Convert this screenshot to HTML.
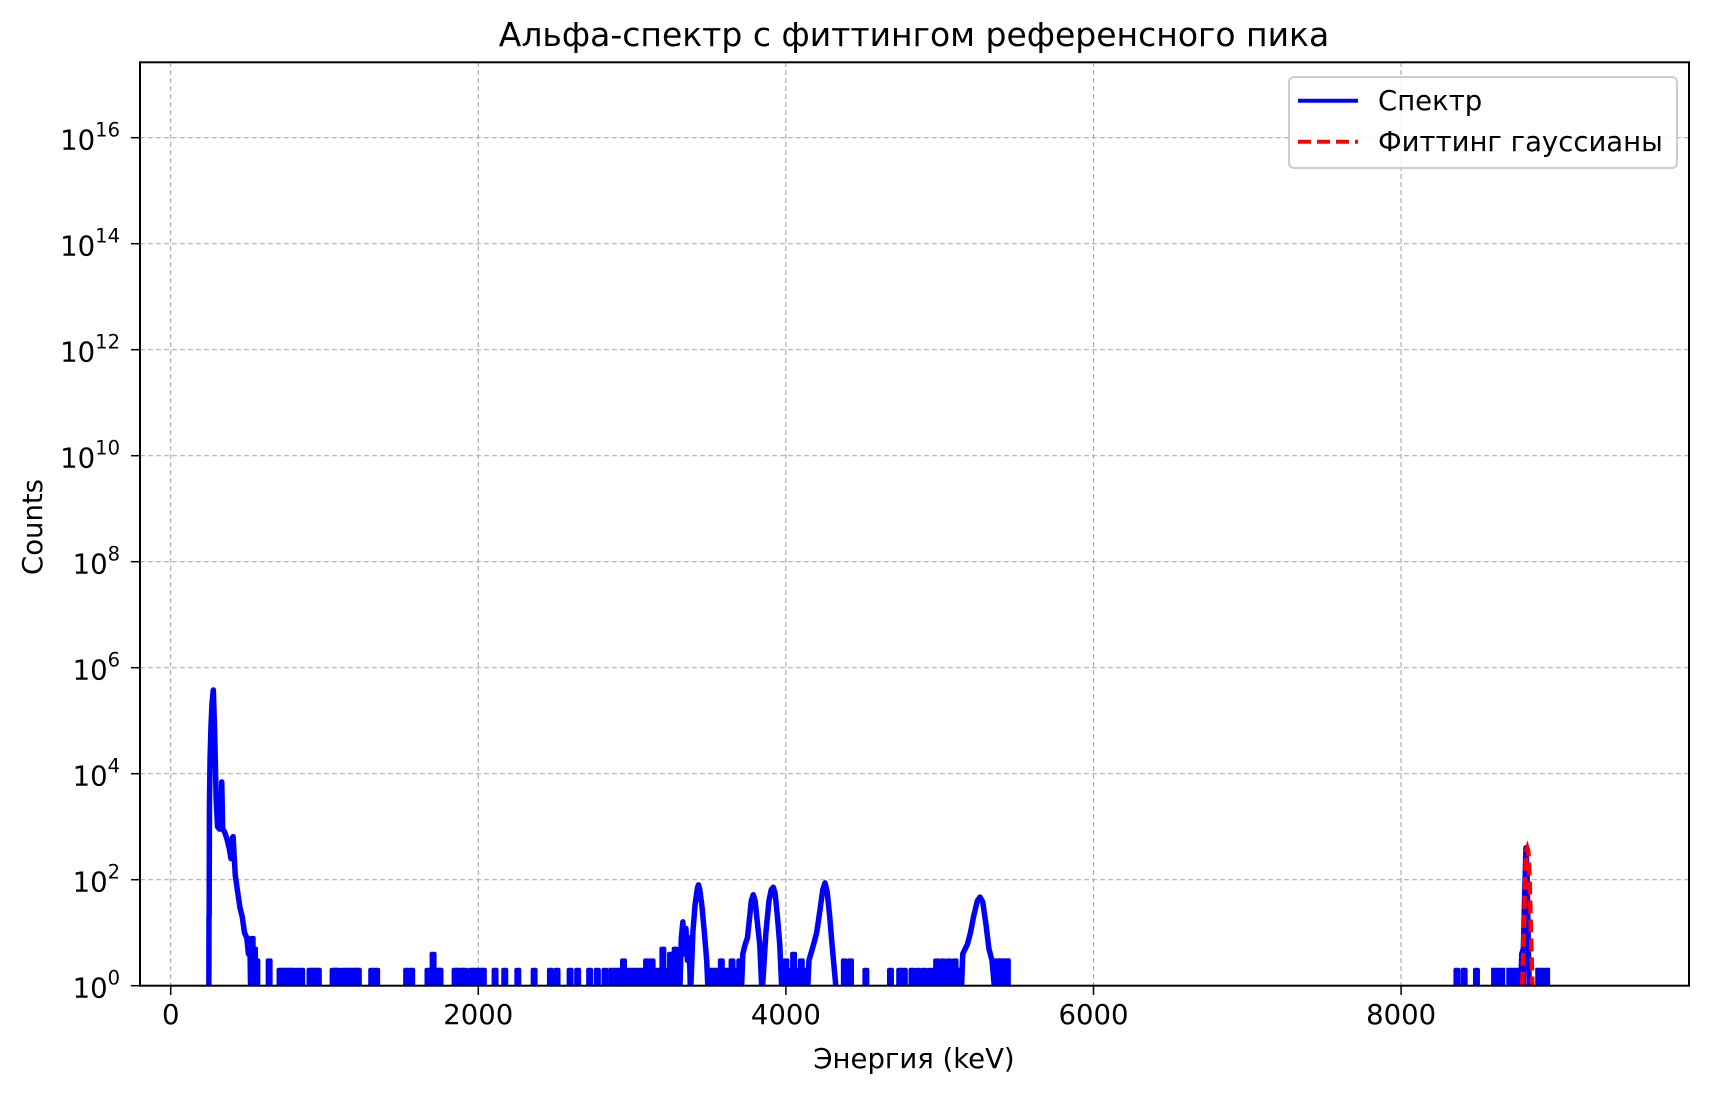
<!DOCTYPE html>
<html><head><meta charset="utf-8"><style>
html,body{margin:0;padding:0;background:#fff}
svg text{font-family:"DejaVu Sans","Liberation Sans",sans-serif;fill:#000}
</style></head><body>
<svg id="chart" width="1709" height="1093" viewBox="0 0 1709 1093" xmlns="http://www.w3.org/2000/svg">
<rect width="1709" height="1093" fill="#fff"/>
<defs><clipPath id="clip"><rect x="140" y="62" width="1549" height="924"/></clipPath></defs>
<g id="grid"></g>
<g id="plot" clip-path="url(#clip)"></g>
<rect x="140" y="62.3" width="1549" height="923.4" fill="none" stroke="#000" stroke-width="2"/>
<g id="ticks"></g>
<text x="914" y="46" font-size="33" text-anchor="middle">Альфа-спектр с фиттингом референсного пика</text>
<text x="914" y="1068" font-size="27.5" text-anchor="middle">Энергия (keV)</text>
<text transform="translate(42,527) rotate(-90)" font-size="27.5" text-anchor="middle">Counts</text>
<g>
<rect x="1289" y="77" width="388" height="91" rx="5" fill="#fff" fill-opacity="0.8" stroke="#ccc" stroke-width="2"/>
<line x1="1298" y1="100.7" x2="1358" y2="100.7" stroke="#0000ff" stroke-width="4"/>
<text x="1378" y="110" font-size="27.5">Спектр</text>
<line x1="1298" y1="141.7" x2="1358" y2="141.7" stroke="#ff0000" stroke-width="4" stroke-dasharray="13,6"/>
<text x="1378" y="151" font-size="27.5">Фиттинг гауссианы</text>
</g>
</svg>
<script>
const xTicks=[0,2000,4000,6000,8000];
const yTickExp=[0,2,4,6,8,10,12,14,16];
// main spectrum: energies and counts (0 = empty)
const specE=[240,248,249,250,252,256,262,268,277,286,296,305,318,326,332,338,350,365,380,392,400,406,412,420,435,450,465,480,495,505,515,520,560,
3290,3300,3310,3320,3330,3340,3350,3360,3370,3380,3395,3410,3425,3432,3440,3455,3470,3485,3495,
3710,3720,3735,3750,3760,3775,3788,3800,3815,3830,3845,3870,3890,3905,3918,3930,3945,3960,3975,
4140,4150,4180,4200,4220,4240,4254,4268,4285,4300,4315,4330,
5140,5150,5180,5200,5220,5245,5262,5280,5300,5320,5340,5360,
8775,8785,8795,8805,8812,8820,8828,8835,8845];
const specC=[0,0,20,20,3000,20000,80000,200000,380000,60000,3000,1000,900,1200,7000,900,800,600,400,250,600,650,300,120,60,30,20,10,8,4,6,0,0,
0,2,0,8,16,4,12,3,8,0,10,35,70,80,65,30,10,3,0,
0,4,6,8,15,40,52,40,15,6,0,10,40,65,72,55,20,6,0,
0,3,6,10,25,65,87,60,20,6,2,0,
0,4,6,10,20,40,47,38,15,5,3,0,
0,4,5,80,400,100,4,0,0];
// isolated noise spikes
const spikeE=[530,545,560,640,711,733,754,776,795,828,852,906,924,942,960,1056,1072,1088,1121,1144,1166,1185,1203,1220,1307,1339,1534,1567,1673,1706,1739,1751,1849,1870,1895,1914,1957,1980,2005,2033,2109,2172,2257,2363,2469,2512,2597,2646,2724,2774,2824,2944,3094,3130,3200,3250,3280,3580,3650,3700,4000,4050,4100,4380,4420,4520,4680,4740,4770,4820,4860,4900,4940,4980,5020,5060,5100,5380,5410,5440,8363,8410,8490,8790];
const spikeC=[8,5,3,3,2,2,2,2,2,2,2,2,2,2,2,2,2,2,2,2,2,2,2,2,2,2,2,2,2,4,2,2,2,2,2,2,2,2,2,2,2,2,2,2,2,2,2,2,2,2,2,3,3,3,5,4,5,3,3,3,3,4,3,3,3,2,2,2,2,2,2,2,2,3,3,3,3,3,3,3,2,2,2,4];
// plateau blocks of dense noise: start, end, level
const blockStart=[2860,3500,3980,4990,5365,8598,8697,8885];
const blockEnd=[3295,3715,4145,5145,5445,8664,8771,8956];
const blockC=[2,2,2,2,3,2,2,2];
// gaussian fit
const fitE=[8780,8790,8797,8803,8808,8812,8816,8821,8826,8830,8834,8839,8845,8852,8862];
const fitC=[0.2,1.5,8,40,130,260,360,400,360,260,130,40,8,1.5,0.2];

const X0=170.7,XS=0.1538,Y0=985.7,YS=53.0;
function xs(e){return X0+e*XS;}
function ys(c){return c<=0?995:Y0-Math.log10(c)*YS;}
const NS="http://www.w3.org/2000/svg";
function mk(t,a,p){const el=document.createElementNS(NS,t);for(const k in a)el.setAttribute(k,a[k]);p.appendChild(el);return el;}
const grid=document.getElementById('grid'),plot=document.getElementById('plot'),ticks=document.getElementById('ticks');
xTicks.forEach(v=>{const x=xs(v);
 const g=mk('line',{x1:x,x2:x,y1:62,y2:986,stroke:'#b0b0b0','stroke-width':1.2,'stroke-dasharray':'5,3'},grid);
 
 
 const t=mk('line',{x1:x,x2:x,y1:986,y2:995,stroke:'#000','stroke-width':1.5},ticks);
 
 
 const l=mk('text',{x:x,y:1024,'font-size':27.5,'text-anchor':'middle'},ticks);l.textContent=v;
 
 
});
yTickExp.forEach(p=>{const y=Y0-p*YS;
 const g=mk('line',{x1:140,x2:1689,y1:y,y2:y,stroke:'#b0b0b0','stroke-width':1.2,'stroke-dasharray':'5,3'},grid);
 
 
 const t=mk('line',{x1:131,x2:140,y1:y,y2:y,stroke:'#000','stroke-width':1.5},ticks);
 
 
 const l=mk('text',{x:120,y:y+12,'font-size':27.5,'text-anchor':'end'},ticks);
 
 
 const a=document.createElementNS(NS,'tspan');a.textContent='10';l.appendChild(a);
 const b=document.createElementNS(NS,'tspan');b.setAttribute('font-size','19.5');b.setAttribute('dy','-13');b.textContent=p;l.appendChild(b);
});
// spectrum
let pts=[];for(let i=0;i<specE.length;i++)pts.push(xs(specE[i])+','+ys(specC[i]));
const sp=mk('polyline',{points:pts.join(' '),fill:'none',stroke:'#0000ff','stroke-width':5.5,'stroke-linejoin':'round'},plot);


spikeE.forEach((e,i)=>{const x=xs(e),y=ys(spikeC[i]);
 const s=mk('polyline',{points:`${x-1.5},995 ${x-1.5},${y} ${x+1.5},${y} ${x+1.5},995`,fill:'none',stroke:'#0000ff','stroke-width':4,'stroke-linejoin':'round'},plot);
 
 
});
blockStart.forEach((s,i)=>{const x1=xs(s),x2=xs(blockEnd[i]),y=ys(blockC[i]);
 const r=mk('rect',{x:x1-2,y:y-2,width:x2-x1+4,height:995-y,fill:'#0000ff'},plot);
 
 
});
let fp=[];for(let i=0;i<fitE.length;i++)fp.push(xs(fitE[i])+','+ys(fitC[i]));
const fl=mk('polyline',{points:fp.join(' '),fill:'none',stroke:'#ff0000','stroke-width':4.5,'stroke-dasharray':'13,6'},plot);


</script>
</body></html>
